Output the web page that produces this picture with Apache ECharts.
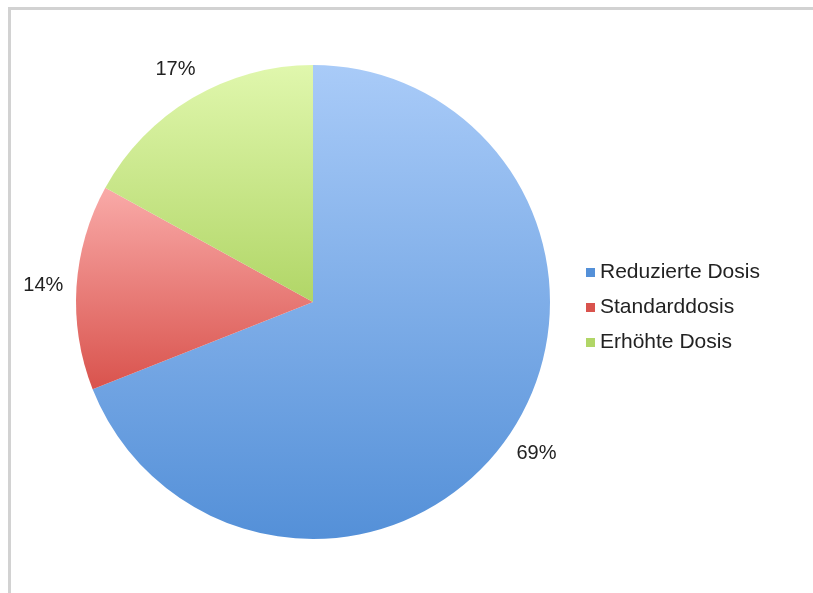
<!DOCTYPE html>
<html>
<head>
<meta charset="utf-8">
<script src="https://cdn.jsdelivr.net/npm/echarts@6/dist/echarts.min.js"></script>
<style>
  html, body { margin: 0; padding: 0; background: #ffffff; }
  #frame {
    position: absolute; left: 8px; top: 7px; width: 805px; height: 586px;
    border-top: 3px solid #d2d2d2; border-left: 3px solid #d2d2d2;
    box-sizing: border-box;
  }
  #chart { position: absolute; left: 0; top: 0; width: 813px; height: 593px; }
</style>
</head>
<body>
<div id="frame"></div>
<div id="chart"></div>
<script>
// Dose groups and their shares (percent)
const categories = ['Reduzierte Dosis', 'Standarddosis', 'Erhöhte Dosis'];
const shares = [69, 14, 17];

// Top/bottom shades for each slice's vertical gradient
const topShades = ['#a9cbf8', '#f9aaa8', '#e0f7ad'];
const bottomShades = ['#5490d8', '#d9534d', '#b1d667'];

const PIE_CENTER = [313, 302];
const PIE_RADIUS = 237;
const LABEL_RADIUS_FACTOR = 1.14;   // labels sit centred just outside the rim

const chart = echarts.init(document.getElementById('chart'), null, { renderer: 'canvas' });

const seriesData = categories.map((name, i) => ({
  name: name,
  value: shares[i],
  itemStyle: {
    color: new echarts.graphic.LinearGradient(0, 0, 0, 1, [
      { offset: 0, color: topShades[i] },
      { offset: 1, color: bottomShades[i] }
    ])
  }
}));

// Centre each percentage label on the slice's mid-angle ray, using the
// rim point the pie layout reports as the first label-line point.
function centreLabel(params) {
  const pts = params.labelLinePoints;
  if (!pts || !pts.length) return {};
  const dx = pts[0][0] - PIE_CENTER[0];
  const dy = pts[0][1] - PIE_CENTER[1];
  return {
    x: PIE_CENTER[0] + dx * LABEL_RADIUS_FACTOR,
    y: PIE_CENTER[1] + dy * LABEL_RADIUS_FACTOR,
    align: 'center',
    verticalAlign: 'middle'
  };
}

chart.setOption({
  animation: false,
  legend: {
    orient: 'vertical',
    left: 581,
    top: 257,
    itemWidth: 9,
    itemHeight: 9,
    itemGap: 14,
    icon: 'rect',
    data: categories.map((name, i) => ({ name: name, itemStyle: { color: bottomShades[i] } })),
    textStyle: { fontFamily: 'Liberation Sans', fontSize: 21, color: '#222222' }
  },
  series: [{
    type: 'pie',
    center: PIE_CENTER,
    radius: [0, PIE_RADIUS],
    startAngle: 90,
    clockwise: true,
    silent: true,
    data: seriesData,
    label: {
      show: true,
      position: 'outside',
      formatter: '{c}%',
      fontFamily: 'Liberation Sans',
      fontSize: 20,
      color: '#222222'
    },
    labelLine: { show: false, length: 16, length2: 0 },
    labelLayout: centreLabel,
    itemStyle: { borderWidth: 0 }
  }]
});
</script>
</body>
</html>
